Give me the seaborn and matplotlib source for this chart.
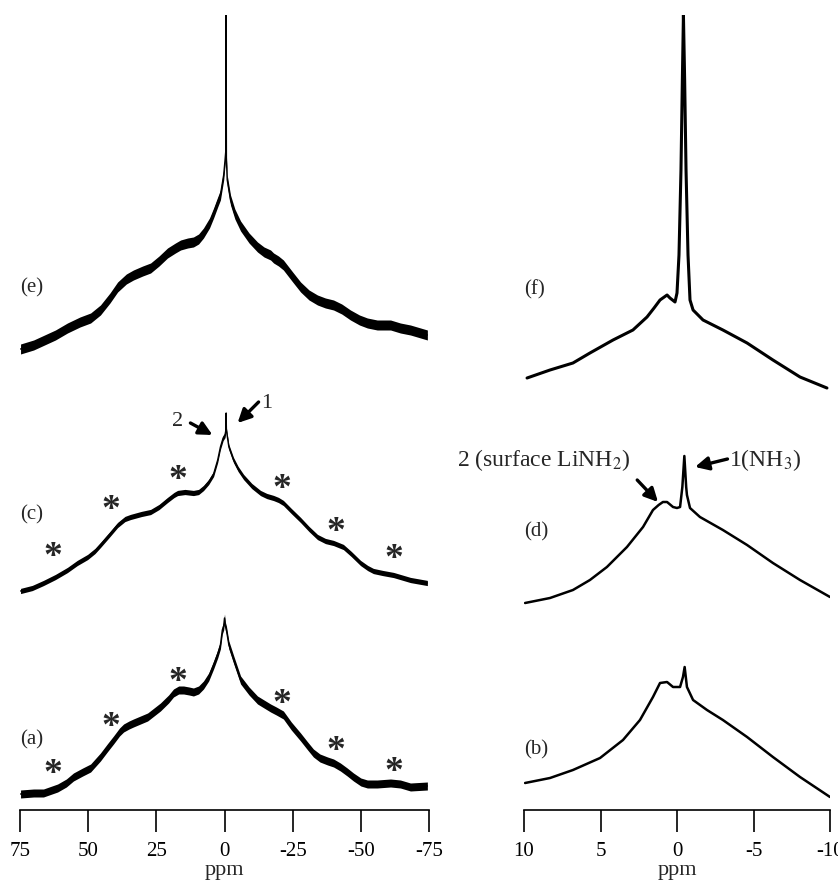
import matplotlib
matplotlib.use("Agg")
import matplotlib.pyplot as plt
import numpy as np
import seaborn as sns

# 넓은 범위 스펙트럼 (좌측, ppm)
e_ppm = [74.8, 70.0, 62.0, 57.6, 53.0, 49.1, 45.5, 42.0, 39.2, 36.0, 33.4, 30.0, 27.1, 24.0, 20.9, 18.0, 16.1,
         13.5, 11.4, 9.5, 7.7, 5.5, 4.0, 2.5, 1.5, 0.3, -0.2, -0.5,
         -0.6, -0.7, -1.0, -2.2, -3.8, -5.9, -9.0, -12.1, -14.5, -16.9, -18.0, -19.8, -21.6, -25.0, -27.9,
         -31.0, -34.1, -37.0, -40.0, -43.0, -46.2, -49.5, -52.4, -56.0, -60.9, -64.5, -68.2, -74.4]
e_int = [1, 5, 15, 22, 28, 32, 40, 52, 63, 71, 75, 79, 82, 89, 97, 102, 105,
         107, 108, 111, 117, 127, 137, 148, 155, 175, 190, 200,
         335, 190, 170, 150, 136, 124, 112, 103, 98, 95, 92, 89, 85, 73, 63,
         55, 50, 47, 45, 41, 35, 30, 27, 25, 25, 22, 20, 15]

c_ppm = [74.8, 70.5, 66.4, 62.0, 57.6, 54.0, 50.2, 47.5, 45.5, 42.0, 39.2, 36.5, 34.5, 30.5, 27.1, 24.0,
         20.9, 18.5, 17.2, 14.5, 11.4, 9.5, 7.7, 5.8, 4.0, 2.5, 1.5, 0.5, -0.2, -0.5,
         -0.6, -0.7, -1.0, -1.6, -3.3, -5.0, -7.0, -10.0, -13.2, -15.5, -18.0, -19.8, -21.6, -24.5, -27.9,
         -31.0, -34.1, -37.0, -40.0, -43.6, -46.5, -49.9, -52.5, -54.6, -58.0, -62.0, -68.2, -74.4]
c_int = [1, 4, 9, 15, 22, 29, 35, 41, 47, 58, 67, 73, 75, 78, 80, 85,
         92, 97, 99, 100, 99, 100, 104, 110, 118, 132, 145, 154, 157, 162,
         179, 162, 156, 145, 132, 123, 115, 106, 99, 96, 94, 92, 89, 81, 72,
         63, 55, 51, 49, 45, 38, 29, 24, 21, 19, 17, 12, 9]

a_ppm = [74.8, 70.0, 66.4, 61.2, 58.0, 55.4, 52.0, 49.1, 45.5, 43.0, 40.7, 38.5, 37.0, 35.0, 33.4, 28.2,
         23.5, 20.5, 18.7, 16.8, 15.0, 13.0, 11.4, 9.5, 7.7, 5.8, 4.0, 2.5, 1.5,
         0.8, 0.3, 0.0, -0.3, -0.7, -1.6, -3.4, -5.9, -9.0, -12.1, -14.5, -16.9, -19.0, -21.6, -24.5,
         -27.9, -30.5, -32.6, -35.0, -37.8, -40.0, -42.5, -45.0, -47.3, -50.0, -52.4, -56.0, -60.9,
         -64.5, -68.2, -74.4]
a_int = [0, 1, 1, 6, 11, 17, 22, 26, 37, 46, 54, 62, 66, 69, 71, 77,
         87, 95, 101, 104, 104, 103, 102, 104, 109, 117, 129, 140, 149,
         164, 168, 176, 168, 164, 149, 134, 114, 103, 94, 90, 86, 83, 79, 68,
         57, 48, 41, 36, 33, 31, 27, 22, 17, 12, 10, 10, 11, 10, 7, 8]

# 좁은 범위 스펙트럼 (우측, ppm)
f_ppm = [9.8, 8.3, 6.8, 5.69, 4.18, 2.88, 1.96, 1.5, 1.11, 0.65, 0.46, 0.13, 0.0, -0.13, -0.26, -0.35,
         -0.42, -0.5, -0.59, -0.72, -0.85, -1.05, -1.7, -3.0, -4.58, -6.27, -8.04, -9.8]
f_int = [0, 8, 15, 25, 38, 48, 61, 70, 78, 83, 80, 76, 85, 123, 208, 298,
         363, 298, 208, 123, 78, 68, 58, 48, 35, 18, 1, -10]

d_ppm = [9.93, 8.3, 6.8, 5.69, 4.58, 3.27, 2.22, 1.57, 1.2, 0.92, 0.65, 0.26, 0.0, -0.2, -0.35, -0.48,
         -0.6, -0.65, -0.85, -1.5, -3.0, -4.58, -6.27, -8.04, -10.0]
d_int = [0, 5, 13, 23, 36, 56, 76, 93, 98, 101, 101, 96, 95, 96, 116, 147,
         116, 108, 95, 86, 73, 58, 40, 23, 6]

b_ppm = [9.93, 8.3, 6.8, 5.03, 3.53, 2.42, 1.57, 1.11, 0.65, 0.26, -0.2, -0.39, -0.5, -0.65, -1.05,
         -1.96, -3.0, -4.58, -6.27, -8.04, -10.0]
b_int = [0, 5, 13, 25, 43, 63, 86, 100, 101, 96, 96, 106, 116, 96, 83,
         73, 63, 46, 26, 6, -14]

left_ticks = [75, 50, 25, 0, -25, -50, -75]
right_ticks = [10, 5, 0, -5, -10]

# 스펙트럼 배치: (ppm, 강도, 기준선 오프셋, 노이즈 띠 반폭, 선 굵기, 라벨, 라벨 높이)
left_traces = [
    (e_ppm, e_int, 460, 5.0, 1.0, "(e)", 522),
    (c_ppm, c_int, 218, 2.6, 1.0, "(c)", 295),
    (a_ppm, a_int, 16, 4.0, 1.0, "(a)", 70),
]
right_traces = [
    (f_ppm, f_int, 432, 0, 2.2, "(f)", 520),
    (d_ppm, d_int, 207, 0, 1.8, "(d)", 278),
    (b_ppm, b_int, 27, 0, 1.8, "(b)", 60),
]

star_ppm = [63.1, 41.6, 17.0, -21.0, -41.0, -62.0]
star_y_c = [260, 307, 337, 328, 285, 258]
star_y_a = [43, 90, 135, 113, 66, 45]

sns.set_theme(style="white")
plt.rcParams["font.family"] = ["Liberation Serif", "DejaVu Serif"]
plt.rcParams["mathtext.fontset"] = "stix"

fig = plt.figure(figsize=(8.38, 8.83), dpi=100)
ax_l = fig.add_axes([20 / 838, 73 / 883, 409 / 838, 795 / 883])
ax_r = fig.add_axes([524 / 838, 73 / 883, 306 / 838, 795 / 883])


def draw_traces(ax, traces, x0):
    for ppm, inten, off, half, lw, label, label_y in traces:
        x = np.array(ppm)
        y = np.array(inten) + off
        if half > 0:
            ax.fill_between(x, y - half, y + half, color="black", lw=0)
        sns.lineplot(x=x, y=y, sort=False, estimator=None, color="black", lw=lw, ax=ax)
        ax.text(x0, label_y, label, fontsize=15, ha="left", va="center")


draw_traces(ax_l, left_traces, 75)
draw_traces(ax_r, right_traces, 10)

for ax, ticks in [(ax_l, left_ticks), (ax_r, right_ticks)]:
    ax.set_xlim(ticks[0], ticks[-1])
    ax.set_ylim(0, 795)
    ax.set_xticks(ticks)
    ax.set_xticklabels([str(t) for t in ticks])
    ax.set_yticks([])
    ax.set_xlabel("ppm", fontsize=16, labelpad=0)
    ax.set_ylabel("")
    ax.patch.set_alpha(0)
    for side in ["left", "right", "top"]:
        ax.spines[side].set_visible(False)
    ax.spines["bottom"].set_linewidth(1.2)
    ax.spines["bottom"].set_color("black")
    ax.tick_params(axis="x", direction="out", length=16, width=1.2, pad=7,
                   labelsize=15, colors="black", bottom=True)

# 회전 측대역 표시 (*)
for px, yc, ya in zip(star_ppm, star_y_c, star_y_a):
    ax_l.text(px, yc - 17, "*", fontsize=27, fontweight="bold", ha="center", va="baseline")
    ax_l.text(px, ya - 17, "*", fontsize=27, fontweight="bold", ha="center", va="baseline")

arrow = dict(arrowstyle="-|>", lw=2.4, color="black", mutation_scale=20, shrinkA=0, shrinkB=0)
ax_l.text(17.2, 388, "2", fontsize=16, ha="center", va="center")
ax_l.annotate("", xy=(4.4, 375), xytext=(12.5, 387), arrowprops=arrow)
ax_l.text(-15.5, 407, "1", fontsize=16, ha="center", va="center")
ax_l.annotate("", xy=(-4.8, 387), xytext=(-12.5, 408), arrowprops=arrow)

ax_r.text(8.7, 350, "2 (surface LiNH$_2$)", fontsize=17, ha="center", va="center")
ax_r.annotate("", xy=(1.24, 308), xytext=(2.6, 330), arrowprops=arrow)
ax_r.text(-3.4, 350, "1(NH$_3$)", fontsize=17, ha="left", va="center")
ax_r.annotate("", xy=(-1.18, 343), xytext=(-3.3, 351), arrowprops=arrow)

fig.savefig("out.png", dpi=100, facecolor="white")
plt.close(fig)
